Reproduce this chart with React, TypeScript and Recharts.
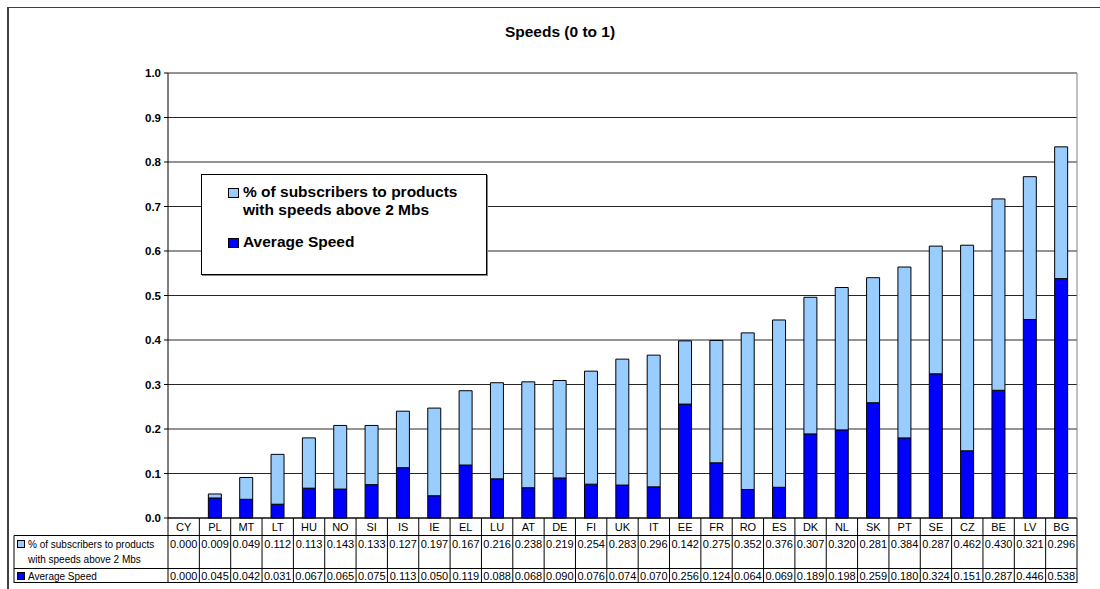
import React from 'react';
import { BarChart, Bar, XAxis, YAxis, CartesianGrid, Legend } from 'recharts';

const categories = ['CY', 'PL', 'MT', 'LT', 'HU', 'NO', 'SI', 'IS', 'IE', 'EL', 'LU', 'AT', 'DE', 'FI', 'UK', 'IT', 'EE', 'FR', 'RO', 'ES', 'DK', 'NL', 'SK', 'PT', 'SE', 'CZ', 'BE', 'LV', 'BG'];
const subscribersAbove2Mbs = [0.0, 0.009, 0.049, 0.112, 0.113, 0.143, 0.133, 0.127, 0.197, 0.167, 0.216, 0.238, 0.219, 0.254, 0.283, 0.296, 0.142, 0.275, 0.352, 0.376, 0.307, 0.32, 0.281, 0.384, 0.287, 0.462, 0.43, 0.321, 0.296];
const averageSpeed = [0.0, 0.045, 0.042, 0.031, 0.067, 0.065, 0.075, 0.113, 0.05, 0.119, 0.088, 0.068, 0.09, 0.076, 0.074, 0.07, 0.256, 0.124, 0.064, 0.069, 0.189, 0.198, 0.259, 0.18, 0.324, 0.151, 0.287, 0.446, 0.538];
const yTicks = [0, 0.1, 0.2, 0.3, 0.4, 0.5, 0.6, 0.7, 0.8, 0.9, 1.0];

const SUBS_NAME = '% of subscribers to products with speeds above 2 Mbs';
const AVG_NAME = 'Average Speed';
const LIGHT = '#99CCFF';
const BLUE = '#0000FF';
const FONT = '"Liberation Sans", Arial, Helvetica, sans-serif';

const data = categories.map((c, i) => ({
  cat: c,
  avg: averageSpeed[i],
  subs: subscribersAbove2Mbs[i],
}));

const PLOT_W = 909;
const HEADER_W = 154;

function TableTick(props: any) {
  const { x, y, payload } = props;
  const i = payload.index;
  const band = PLOT_W / categories.length;
  const l = x - band / 2;
  const r = x + band / 2;
  const st = { stroke: '#000', strokeWidth: 1 };
  return (
    <g fontFamily={FONT}>
      <text x={x} y={y + 13} textAnchor="middle" fontSize={11} fill="#000">{payload.value}</text>
      <text x={x} y={y + 30} textAnchor="middle" fontSize={11} fill="#000">{subscribersAbove2Mbs[i].toFixed(3)}</text>
      <text x={x} y={y + 62} textAnchor="middle" fontSize={11} fill="#000">{averageSpeed[i].toFixed(3)}</text>
      <line x1={r} x2={r} y1={y} y2={y + 65} {...st} />
      <line x1={l} x2={r} y1={y + 17.5} y2={y + 17.5} {...st} />
      <line x1={l} x2={r} y1={y + 50.5} y2={y + 50.5} {...st} />
      <line x1={l} x2={r} y1={y + 64.5} y2={y + 64.5} {...st} />
      {i === 0 && (
        <g>
          <line x1={l} x2={l} y1={y} y2={y + 65} {...st} />
          <line x1={l - HEADER_W} x2={l - HEADER_W} y1={y + 17.5} y2={y + 65} {...st} />
          <line x1={l - HEADER_W} x2={l} y1={y + 17.5} y2={y + 17.5} {...st} />
          <line x1={l - HEADER_W} x2={l} y1={y + 50.5} y2={y + 50.5} {...st} />
          <line x1={l - HEADER_W} x2={l} y1={y + 64.5} y2={y + 64.5} {...st} />
          <rect x={l - HEADER_W + 3.5} y={y + 22.5} width={7} height={7} fill={LIGHT} stroke="#000" />
          <text x={l - HEADER_W + 14} y={y + 30} fontSize={10} fill="#000">% of subscribers to products</text>
          <text x={l - HEADER_W + 14} y={y + 45} fontSize={10} fill="#000">with speeds above 2 Mbs</text>
          <rect x={l - HEADER_W + 3.5} y={y + 54.5} width={7} height={7} fill={BLUE} stroke="#000" />
          <text x={l - HEADER_W + 14} y={y + 62} fontSize={10} fill="#000">Average Speed</text>
        </g>
      )}
    </g>
  );
}

function LegendBox() {
  return (
    <div style={{ width: 286, height: 101, border: '1px solid #000', boxSizing: 'border-box', background: '#fff', boxShadow: '1px 1px 0 #888' }}>
      <svg width={284} height={99} style={{ display: 'block' }}>
        <g fontFamily={FONT} fontWeight="bold" fontSize={15.5} fill="#000">
          <rect x={26.5} y={13.5} width={10} height={9} fill={LIGHT} stroke="#000" />
          <text x={41} y={22}>% of subscribers to products</text>
          <text x={41} y={40}>with speeds above 2 Mbs</text>
          <rect x={26.5} y={63.5} width={10} height={9} fill={BLUE} stroke="#000" />
          <text x={41} y={72}>Average Speed</text>
        </g>
      </svg>
    </div>
  );
}

export default function App() {
  return (
    <div style={{ position: 'absolute', left: 0, top: 0, width: 1100, height: 589, background: '#fff', fontFamily: FONT }}>
      <div style={{ position: 'absolute', left: 7, top: 7, width: 1093, height: 582, borderLeft: '2px solid #404040', borderTop: '1px solid #404040', boxSizing: 'border-box' }} />
      <svg style={{ position: 'absolute', left: 0, top: 0 }} width={1100} height={50}>
        <text x={560} y={37} textAnchor="middle" fontFamily={FONT} fontWeight="bold" fontSize={15.5} fill="#000">Speeds (0 to 1)</text>
      </svg>
      <div style={{ position: 'absolute', left: 0, top: 0 }}>
        <BarChart
          width={1100}
          height={589}
          data={data}
          margin={{ top: 73, right: 22, bottom: 0, left: 128 }}
          barSize={13}
        >
          <CartesianGrid yAxisId="left" vertical={false} stroke="#000" strokeOpacity={0.85} />
          <XAxis
            dataKey="cat"
            type="category"
            height={71}
            tickLine={false}
            tickSize={0}
            tickMargin={0}
            interval={0}
            axisLine={{ stroke: '#000' }}
            tick={<TableTick />}
          />
          <YAxis
            yAxisId="left"
            width={40}
            domain={[0, 1]}
            ticks={yTicks}
            interval={0}
            tickFormatter={(v: number) => v.toFixed(1)}
            tick={{ fontSize: 11.5, fontWeight: 'bold', fill: '#000', fontFamily: FONT }}
            tickSize={4}
            tickMargin={3}
            tickLine={{ stroke: '#000' }}
            axisLine={{ stroke: '#000' }}
          />
          <YAxis
            yAxisId="right"
            orientation="right"
            width={1}
            domain={[0, 1]}
            tick={false}
            tickLine={false}
            axisLine={{ stroke: '#808080' }}
          />
          <Legend
            layout="vertical"
            align="center"
            verticalAlign="middle"
            content={() => <LegendBox />}
            wrapperStyle={{ position: 'absolute', left: 201, top: 174, width: 286, height: 101 }}
          />
          <Bar yAxisId="left" dataKey="avg" name={AVG_NAME} stackId="s" fill={BLUE} stroke="#000" strokeWidth={1} isAnimationActive={false} />
          <Bar yAxisId="left" dataKey="subs" name={SUBS_NAME} stackId="s" fill={LIGHT} stroke="#000" strokeWidth={1} isAnimationActive={false} />
        </BarChart>
      </div>
    </div>
  );
}
